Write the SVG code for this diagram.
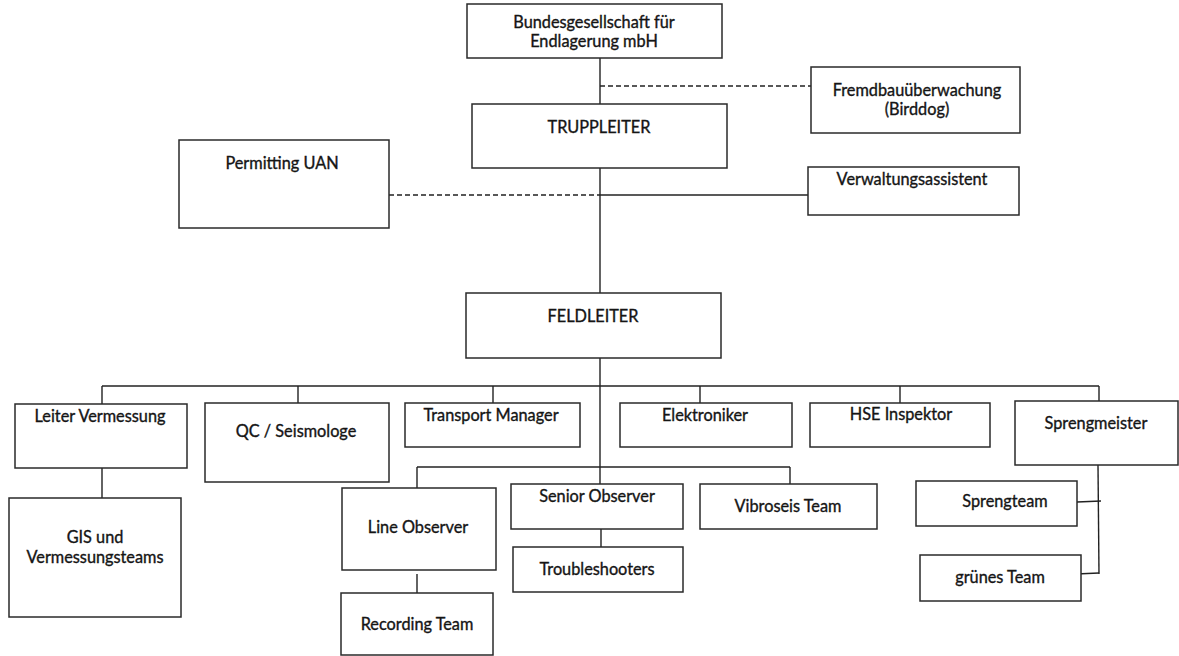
<svg xmlns="http://www.w3.org/2000/svg" width="1179" height="656" viewBox="0 0 1179 656">
  <style>
    .box { fill: #ffffff; stroke: #2a2a2a; stroke-width: 1.5; }
    .lbl { font-family: Lato, "Noto Sans", "Liberation Sans", sans-serif; font-size: 16.3px; fill: #151515; stroke: #151515; stroke-width: 0.35; text-anchor: middle; }
    .ln { stroke: #222; stroke-width: 1.4; fill: none; }
    .dash { stroke: #222; stroke-width: 1.3; fill: none; stroke-dasharray: 5 3; }
  </style>
  <rect width="1179" height="656" fill="#ffffff"/>

  <!-- connectors -->
  <g id="connectors">
    <!-- main spine -->
    <line class="ln" x1="600" y1="58" x2="600" y2="104"/>
    <line class="ln" x1="600" y1="168" x2="600" y2="293"/>
    <line class="ln" x1="600" y1="358" x2="600" y2="484"/>
    <!-- staff links -->
    <line class="dash" x1="600" y1="86" x2="811" y2="86"/>
    <line class="dash" x1="389" y1="195" x2="600" y2="195"/>
    <line class="ln" x1="600" y1="195" x2="808" y2="195"/>
    <!-- department bar -->
    <line class="ln" x1="102" y1="386" x2="1099" y2="386"/>
    <line class="ln" x1="102" y1="386" x2="102" y2="404"/>
    <line class="ln" x1="298" y1="386" x2="298" y2="403"/>
    <line class="ln" x1="493" y1="386" x2="493" y2="403"/>
    <line class="ln" x1="700" y1="386" x2="700" y2="403"/>
    <line class="ln" x1="900" y1="386" x2="900" y2="403"/>
    <line class="ln" x1="1099" y1="386" x2="1099" y2="401"/>
    <!-- survey -->
    <line class="ln" x1="102" y1="468" x2="102" y2="498"/>
    <!-- observer bar -->
    <line class="ln" x1="417" y1="467" x2="790" y2="467"/>
    <line class="ln" x1="417" y1="467" x2="417" y2="488"/>
    <line class="ln" x1="790" y1="467" x2="790" y2="484"/>
    <line class="ln" x1="417" y1="574" x2="417" y2="593"/>
    <line class="ln" x1="601" y1="529" x2="601" y2="547"/>
    <!-- blasting -->
    <line class="ln" x1="1098" y1="465" x2="1099" y2="574"/>
    <line class="ln" x1="1077" y1="502" x2="1101" y2="501"/>
    <line class="ln" x1="1076" y1="574" x2="1099" y2="573"/>
  </g>

  <g id="bge">
    <rect class="box" x="467" y="4" width="255" height="54"/>
    <text class="lbl" x="594" y="28">Bundesgesellschaft für</text>
    <text class="lbl" x="594" y="47">Endlagerung mbH</text>
  </g>
  <g id="birddog">
    <rect class="box" x="811" y="67" width="209" height="66"/>
    <text class="lbl" x="917" y="96">Fremdbauüberwachung</text>
    <text class="lbl" x="917" y="115">(Birddog)</text>
  </g>
  <g id="truppleiter">
    <rect class="box" x="472" y="104" width="255" height="64"/>
    <text class="lbl" x="599" y="133">TRUPPLEITER</text>
  </g>
  <g id="permitting">
    <rect class="box" x="179" y="140" width="210" height="88"/>
    <text class="lbl" x="282" y="169">Permitting UAN</text>
  </g>
  <g id="verwaltung">
    <rect class="box" x="808" y="167" width="211" height="48"/>
    <text class="lbl" x="912" y="185">Verwaltungsassistent</text>
  </g>
  <g id="feldleiter">
    <rect class="box" x="466" y="293" width="255" height="65"/>
    <text class="lbl" x="593" y="322">FELDLEITER</text>
  </g>

  <g id="leiter-vermessung">
    <rect class="box" x="15" y="404" width="172" height="64"/>
    <text class="lbl" x="100" y="422">Leiter Vermessung</text>
  </g>
  <g id="qc">
    <rect class="box" x="205" y="403" width="184" height="79"/>
    <text class="lbl" x="296" y="437">QC / Seismologe</text>
  </g>
  <g id="transport">
    <rect class="box" x="405" y="403" width="175" height="44"/>
    <text class="lbl" x="491" y="421">Transport Manager</text>
  </g>
  <g id="elektroniker">
    <rect class="box" x="620" y="403" width="172" height="44"/>
    <text class="lbl" x="705" y="421">Elektroniker</text>
  </g>
  <g id="hse">
    <rect class="box" x="810" y="403" width="180" height="44"/>
    <text class="lbl" x="901" y="420">HSE Inspektor</text>
  </g>
  <g id="sprengmeister">
    <rect class="box" x="1015" y="401" width="163" height="64"/>
    <text class="lbl" x="1096" y="429">Sprengmeister</text>
  </g>

  <g id="gis">
    <rect class="box" x="9" y="498" width="172" height="119"/>
    <text class="lbl" x="95" y="543">GIS und</text>
    <text class="lbl" x="95" y="563">Vermessungsteams</text>
  </g>
  <g id="line-observer">
    <rect class="box" x="342" y="488" width="154" height="82"/>
    <text class="lbl" x="418" y="533">Line Observer</text>
  </g>
  <g id="recording">
    <rect class="box" x="341" y="593" width="152" height="62"/>
    <text class="lbl" x="417" y="630">Recording Team</text>
  </g>
  <g id="senior-observer">
    <rect class="box" x="511" y="484" width="172" height="45"/>
    <text class="lbl" x="597" y="502">Senior Observer</text>
  </g>
  <g id="troubleshooters">
    <rect class="box" x="513" y="547" width="170" height="45"/>
    <text class="lbl" x="597" y="575">Troubleshooters</text>
  </g>
  <g id="vibroseis">
    <rect class="box" x="700" y="484" width="177" height="45"/>
    <text class="lbl" x="788" y="512">Vibroseis Team</text>
  </g>
  <g id="sprengteam">
    <rect class="box" x="916" y="481" width="161" height="45"/>
    <text class="lbl" x="1005" y="507">Sprengteam</text>
  </g>
  <g id="gruenes-team">
    <rect class="box" x="920" y="555" width="161" height="46"/>
    <text class="lbl" x="1000" y="583">grünes Team</text>
  </g>
</svg>
